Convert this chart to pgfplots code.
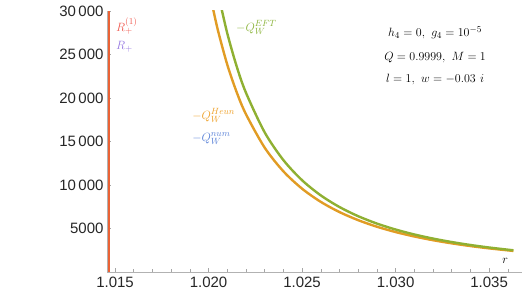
\documentclass[border=0pt]{standalone}
\usepackage{fontspec}
\usepackage{pgfplots}
\pgfplotsset{compat=1.18}
\newfontfamily\tickfont{Liberation Sans}
\definecolor{mblue}{RGB}{94,129,181}
\definecolor{morange}{RGB}{225,156,36}
\definecolor{mgreen}{RGB}{143,176,50}
\definecolor{mred}{RGB}{235,98,53}
\definecolor{mpurple}{RGB}{135,120,179}
\definecolor{lred}{RGB}{240,90,80}
\definecolor{lpurple}{RGB}{150,120,225}
\definecolor{lblue}{RGB}{90,130,215}
\definecolor{lorange}{RGB}{238,160,40}
\definecolor{lgreen}{RGB}{140,180,60}
\begin{document}
\begin{tikzpicture}
\begin{axis}[
  scale only axis,
  width=415pt, height=261pt,
  xmin=1.01457, xmax=1.03676,
  ymin=0, ymax=30000,
  axis lines=left,
  axis line style={-, draw=black!30, line width=0.6pt},
  tick align=inside,
  tick style={draw=black!35, line width=0.5pt},
  major tick length=4pt,
  minor tick length=2.5pt,
  xtick={1.015,1.020,1.025,1.030,1.035},
  xticklabels={1.015,1.020,1.025,1.030,1.035},
  minor xtick={1.016,1.017,1.018,1.019,1.021,1.022,1.023,1.024,1.026,1.027,1.028,1.029,1.031,1.032,1.033,1.034,1.036},
  ytick={5000,10000,15000,20000,25000,30000},
  yticklabels={5000,10\,000,15\,000,20\,000,25\,000,30\,000},
  minor ytick={1000,2000,3000,4000,6000,7000,8000,9000,11000,12000,13000,14000,16000,17000,18000,19000,21000,22000,23000,24000,26000,27000,28000,29000},
  tick label style={font=\tickfont\fontsize{15}{18}\selectfont, text=black!85},
  xticklabel style={yshift=-1pt},
  scaled ticks=false,
]
\addplot[line width=2.4pt, color=mred] coordinates {(1.01468,0) (1.01468,30000)};
\addplot[line width=2.4pt, color=morange, smooth] coordinates {
(1.0202,30665) (1.0205,27789) (1.021,23837) (1.0215,20692) (1.022,18139)
(1.023,14296) (1.024,11575) (1.025,9577) (1.026,8063) (1.027,6889)
(1.028,5958) (1.029,5206) (1.030,4593) (1.031,4083) (1.032,3655)
(1.033,3294) (1.034,2983) (1.035,2716) (1.0363,2420)};
\addplot[line width=2.4pt, color=mgreen, smooth] coordinates {
(1.0206,31174) (1.021,27441) (1.0215,23657) (1.022,20607) (1.023,16053)
(1.024,12867) (1.025,10548) (1.026,8807) (1.027,7468) (1.028,6413)
(1.029,5568) (1.030,4882) (1.031,4316) (1.032,3843) (1.033,3445)
(1.034,3105) (1.035,2815) (1.0363,2494)};
\node[anchor=west, text=lred, font=\fontsize{13}{15}\selectfont, inner sep=0pt] at (axis cs:1.01505,28224) {$R_+^{(1)}$};
\node[anchor=west, text=lpurple, font=\fontsize{13}{15}\selectfont, inner sep=0pt] at (axis cs:1.01505,25920) {$R_+$};
\node[anchor=west, text=lgreen, font=\fontsize{13}{15}\selectfont, inner sep=0pt] at (axis cs:1.02147,28109) {$-Q_W^{EFT}$};
\node[anchor=west, text=lorange, font=\fontsize{13}{15}\selectfont, inner sep=0pt] at (axis cs:1.019118,17971) {$-Q_W^{Heun}$};
\node[anchor=west, text=lblue, font=\fontsize{13}{15}\selectfont, inner sep=0pt] at (axis cs:1.019118,15322) {$-Q_W^{num}$};
\node[font=\fontsize{13}{15}\selectfont, inner sep=0pt] at (axis cs:1.032112,27533) {$h_4=0,\ g_4=10^{-5}$};
\node[font=\fontsize{13}{15}\selectfont, inner sep=0pt] at (axis cs:1.032112,24653) {$Q=0.9999,\ M=1$};
\node[font=\fontsize{13}{15}\selectfont, inner sep=0pt] at (axis cs:1.032112,22118) {$l=1,\ w=-0.03\ i$};
\node[font=\fontsize{13}{15}\selectfont, inner sep=0pt] at (axis cs:1.035856,1267) {$r$};
\coordinate (sw) at (rel axis cs:0,0);
\end{axis}
\pgfresetboundingbox
\path (sw) ++(-107pt,-24pt) rectangle ++(529pt,296pt);
\end{tikzpicture}
\end{document}
